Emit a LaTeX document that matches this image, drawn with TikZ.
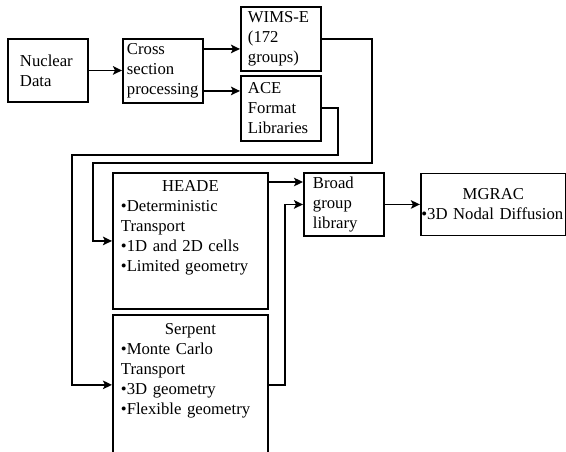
\documentclass[tikz,border=0pt]{standalone}
\usepackage{fontspec}
\setmainfont{Liberation Serif}
\usepackage{tikz}
\usetikzlibrary{arrows.meta,positioning}
\tikzset{
    block/.style={rectangle, draw, line width=1.9pt, minimum width=80pt, minimum height=64pt, inner xsep=0pt, align=left, font=\fontsize{16.7}{20}\selectfont},
    code/.style={block, minimum width=155pt, text width=139pt, text height=12pt},
    flow/.style={-{Stealth[length=9pt, width=8.5pt, inset=2pt]}, line width=1.9pt}
}

\begin{document}
\begin{tikzpicture}[x=1pt, y=-1pt, node distance=5pt]
    \useasboundingbox (0,0) rectangle (566,451);

    % Data preparation
    \node[block, anchor=north west, text width=56pt, minimum height=63pt] (nuclear) at (7,38) {Nuclear\\Data};
    \node[block, anchor=north west, text width=72pt] (xsproc) at (122,38) {Cross\\section\\processing};
    \node[block, anchor=north west, text width=66pt] (wims) at (240,6) {WIMS-E\\(172\\groups)};
    \node[block, below=3pt of wims, text width=66pt, minimum height=65pt] (ace) {ACE\\Format\\Libraries};

    % Transport codes
    \node[code, anchor=north west, text depth=110pt, inner ysep=7pt] (heade) at (112,172) {{\centering HEADE\par}•Deterministic\\Transport\\•1D and 2D cells\\•Limited geometry};
    \node[code, below=4pt of heade, text depth=112pt, inner ysep=8pt] (serpent) {{\centering Serpent\par}•Monte Carlo\\Transport\\•3D geometry\\•Flexible geometry};

    % Core calculation
    \node[block, anchor=north west, text width=62pt, minimum height=63pt] (broad) at (303,172) {Broad\\group\\library};
    \node[block, right=35pt of broad, text width=144pt, minimum width=145pt, minimum height=62pt] (mgrac) {{\centering MGRAC\par}•3D Nodal Diffusion};

    % Arrows
    \draw[flow] (nuclear.east) -- (nuclear.east -| xsproc.west);
    \draw[flow] ([yshift=22pt]xsproc.east) -- ([yshift=22pt]xsproc.east -| wims.west);
    \draw[flow] ([yshift=-20pt]xsproc.east) -- ([yshift=-20pt]xsproc.east -| ace.west);
    \draw[flow] (wims.east) -| (372,163) -| ([xshift=-19pt]heade.west) -- (heade.west);
    \draw[flow] (ace.east) -| (338,155) -| ([xshift=-40pt]serpent.west) -- (serpent.west);
    \draw[flow] ([yshift=-10pt]heade.north east) -- ([yshift=-10pt]heade.north east -| broad.west);
    \draw[flow] (serpent.east) -| ([xshift=-18pt]broad.west) -- (broad.west);
    \draw[flow] (broad.east) -- (broad.east -| mgrac.west);
\end{tikzpicture}
\end{document}
